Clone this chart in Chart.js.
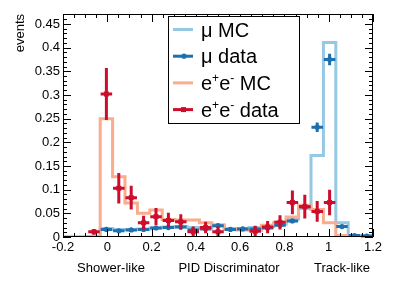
<!DOCTYPE html>
<html>
<head>
<meta charset="utf-8">
<script src="https://cdn.jsdelivr.net/npm/chart.js@4.4.1/dist/chart.umd.min.js"></script>
<style>
  html, body { margin: 0; padding: 0; background: #fff; }
  canvas { display: block; }
</style>
</head>
<body>
<canvas id="myChart" width="394" height="283"></canvas>
<script>
// histogram binning (25 bins from -0.2 to 1.2)
const binEdges = [-0.2, -0.144, -0.088, -0.032, 0.024, 0.08, 0.136, 0.192, 0.248, 0.304, 0.36, 0.416, 0.472,
                  0.528, 0.584, 0.64, 0.696, 0.752, 0.808, 0.864, 0.92, 0.976, 1.032, 1.088, 1.144, 1.2];
const binCenters = [-0.172, -0.116, -0.06, -0.004, 0.052, 0.108, 0.164, 0.22, 0.276, 0.332, 0.388, 0.444, 0.5,
                    0.556, 0.612, 0.668, 0.724, 0.78, 0.836, 0.892, 0.948, 1.004, 1.06, 1.116, 1.172];
const halfBin = 0.026;

const muMC   = [0, 0, 0.001, 0.018, 0.016, 0.016, 0.017, 0.019, 0.021, 0.022, 0.02, 0.018, 0.024,
                0.018, 0.018, 0.02, 0.022, 0.027, 0.038, 0.06, 0.172, 0.411, 0.03, 0.003, 0.002];
const muData = [null, null, null, 0.016, 0.013, 0.015, 0.016, 0.019, 0.02, 0.021, 0.015, 0.017, 0.024,
                0.016, 0.017, 0.017, 0.019, 0.025, 0.034, 0.064, 0.232, 0.375, 0.022, 0.003, 0.002];
const muErr  = [0, 0, 0, 0.002, 0.002, 0.002, 0.002, 0.002, 0.002, 0.002, 0.002, 0.002, 0.002,
                0.002, 0.002, 0.002, 0.002, 0.003, 0.003, 0.005, 0.01, 0.012, 0.003, 0.001, 0.001];
const eeMC   = [0, 0, 0, 0.25, 0.127, 0.072, 0.05, 0.057, 0.037, 0.036, 0.036, 0.03, 0.026,
                0.016, 0.015, 0.014, 0.025, 0.031, 0.042, 0.067, 0.058, 0.03, 0.003, 0, 0];
const eeData = [null, null, 0.011, 0.302, 0.103, 0.083, 0.03, 0.043, 0.035, 0.032, 0.011, 0.02, 0.011,
                null, null, 0.012, 0.021, 0.031, 0.073, 0.064, 0.054, 0.073, null, null, null];
const eeErr  = [0, 0, 0.006, 0.055, 0.032, 0.025, 0.015, 0.018, 0.016, 0.016, 0.011, 0.012, 0.011,
                0, 0, 0.012, 0.013, 0.015, 0.025, 0.025, 0.022, 0.027, 0, 0, 0];

const xTicks = [-0.2, 0, 0.2, 0.4, 0.6, 0.8, 1, 1.2];
const yTicks = [0, 0.05, 0.1, 0.15, 0.2, 0.25, 0.3, 0.35, 0.4, 0.45];

const cMuMC = 'rgb(150,200,228)';
const cMuData = 'rgb(28,112,176)';
const cEeMC = 'rgb(250,172,140)';
const cEeData = 'rgb(204,14,44)';
const FONT = '"Liberation Sans", Arial, sans-serif';

function histPoints(vals) {
    return binEdges.map(function (e, i) {
        return { x: e, y: i < vals.length ? vals[i] : vals[vals.length - 1] };
    });
}
function dataPoints(vals, errs) {
    var pts = [];
    for (let i = 0; i < vals.length; i++) {
        if (vals[i] !== null) pts.push({ x: binCenters[i], y: vals[i], err: errs[i] });
    }
    return pts;
}

// error bars for the data points
const errorBars = {
    id: 'errorBars',
    afterDatasetDraw(chart, args) {
        const ds = chart.data.datasets[args.index];
        if (!ds.errBars) return;
        const ctx = chart.ctx, x = chart.scales.x, y = chart.scales.y;
        ctx.save();
        ctx.strokeStyle = ds.borderColor;
        ctx.lineWidth = 3;
        ctx.lineCap = 'butt';
        ds.data.forEach(function (p) {
            const px = x.getPixelForValue(p.x), py = y.getPixelForValue(p.y);
            ctx.beginPath();
            ctx.moveTo(x.getPixelForValue(p.x - halfBin), py);
            ctx.lineTo(x.getPixelForValue(p.x + halfBin), py);
            if (p.err > 0) {
                ctx.moveTo(px, y.getPixelForValue(Math.max(0, p.y - p.err)));
                ctx.lineTo(px, y.getPixelForValue(p.y + p.err));
            }
            ctx.stroke();
        });
        ctx.restore();
    }
};

// ROOT-like frame with inward ticks, axis texts and legend box
const frame = {
    id: 'frame',
    afterDraw(chart) {
        const ctx = chart.ctx, a = chart.chartArea, x = chart.scales.x, y = chart.scales.y;
        ctx.save();
        ctx.strokeStyle = '#000';
        ctx.lineWidth = 1;
        ctx.beginPath();
        ctx.rect(a.left + 0.5, a.top + 0.5, a.right - a.left - 1, a.bottom - a.top - 1);
        ctx.stroke();

        ctx.beginPath();
        for (let k = 0; k <= 28; k++) {
            const v = -0.2 + k * 0.05;
            const px = Math.round(x.getPixelForValue(v)) + 0.5;
            const len = (k % 4 === 0) ? 8 : 4;
            ctx.moveTo(px, a.bottom); ctx.lineTo(px, a.bottom - len);
            ctx.moveTo(px, a.top); ctx.lineTo(px, a.top + len);
        }
        for (let k = 0; k <= 47; k++) {
            const v = k * 0.01;
            if (v > y.max) break;
            const py = Math.round(y.getPixelForValue(v)) + 0.5;
            const len = (k % 5 === 0) ? 8 : 4;
            ctx.moveTo(a.left, py); ctx.lineTo(a.left + len, py);
            ctx.moveTo(a.right, py); ctx.lineTo(a.right - len, py);
        }
        ctx.stroke();

        ctx.fillStyle = '#000';
        ctx.font = '13px ' + FONT;
        ctx.textBaseline = 'middle';
        ctx.textAlign = 'center';
        ctx.fillText('Shower-like', 111, 268);
        ctx.fillText('PID Discriminator', 229, 268);
        ctx.fillText('Track-like', 342, 268);
        ctx.save();
        ctx.translate(20, 14);
        ctx.rotate(-Math.PI / 2);
        ctx.textAlign = 'right';
        ctx.fillText('events', 0, 0);
        ctx.restore();

        // legend
        ctx.fillStyle = '#fff';
        ctx.fillRect(168, 16, 131, 107);
        ctx.strokeStyle = '#000';
        ctx.strokeRect(168.5, 16.5, 131, 107);
        const rows = [
            { c: cMuMC, t: [['\u03bc MC', 0]], m: null },
            { c: cMuData, t: [['\u03bc data', 0]], m: 'dot' },
            { c: cEeMC, t: [['e', 0], ['+', 1], ['e', 0], ['-', 1], [' MC', 0]], m: null },
            { c: cEeData, t: [['e', 0], ['+', 1], ['e', 0], ['-', 1], [' data', 0]], m: 'sq' }
        ];
        rows.forEach(function (r, i) {
            const ly = 29.5 + i * 26.7;
            ctx.strokeStyle = r.c;
            ctx.lineWidth = 3;
            ctx.beginPath();
            ctx.moveTo(173, ly); ctx.lineTo(193, ly);
            ctx.stroke();
            ctx.fillStyle = r.c;
            if (r.m === 'dot') { ctx.beginPath(); ctx.arc(184, ly, 2.6, 0, Math.PI * 2); ctx.fill(); }
            if (r.m === 'sq') ctx.fillRect(181, ly - 2.5, 5, 5);
            ctx.fillStyle = '#000';
            ctx.textAlign = 'left';
            ctx.textBaseline = 'alphabetic';
            let tx = 201;
            r.t.forEach(function (part) {
                ctx.font = (part[1] ? '12px ' : '20px ') + FONT;
                ctx.fillText(part[0], tx, ly + (part[1] ? -1 : 7));
                tx += ctx.measureText(part[0]).width;
            });
        });
        ctx.restore();
    }
};

const ctx = document.getElementById('myChart').getContext('2d');
const myChart = new Chart(ctx, {
    type: 'scatter',
    data: {
        datasets: [
            { label: 'e+e- data', data: dataPoints(eeData, eeErr), errBars: true,
              borderColor: cEeData, backgroundColor: cEeData, pointStyle: 'rect', pointRadius: 3.5, borderWidth: 0 },
            { label: 'mu data', data: dataPoints(muData, muErr), errBars: true,
              borderColor: cMuData, backgroundColor: cMuData, pointStyle: 'circle', pointRadius: 2.6, borderWidth: 0 },
            { type: 'line', label: 'e+e- MC', data: histPoints(eeMC), stepped: 'before',
              borderColor: cEeMC, borderWidth: 3, pointRadius: 0, fill: false },
            { type: 'line', label: 'mu MC', data: histPoints(muMC), stepped: 'before',
              borderColor: cMuMC, borderWidth: 3, pointRadius: 0, fill: false }
        ]
    },
    options: {
        responsive: false,
        devicePixelRatio: 1,
        animation: false,
        layout: { padding: { top: 14, right: 21, left: 0, bottom: 0 } },
        plugins: { legend: { display: false }, tooltip: { enabled: false } },
        scales: {
            x: {
                type: 'linear', min: -0.2, max: 1.2,
                afterFit: function (s) { s.height = 46; },
                afterBuildTicks: function (s) { s.ticks = xTicks.map(v => ({ value: v })); },
                grid: { display: false, drawTicks: false },
                border: { display: false },
                ticks: {
                    padding: 3, color: '#000', maxRotation: 0, autoSkip: false,
                    font: { family: FONT, size: 13 },
                    callback: v => String(Number(v.toFixed(2)))
                }
            },
            y: {
                type: 'linear', min: 0, max: 0.471,
                afterFit: function (s) { s.width = 63; },
                afterBuildTicks: function (s) { s.ticks = yTicks.map(v => ({ value: v })); },
                grid: { display: false, drawTicks: false },
                border: { display: false },
                ticks: {
                    padding: 3, color: '#000', autoSkip: false,
                    font: { family: FONT, size: 13 },
                    callback: v => String(Number(v.toFixed(2)))
                }
            }
        }
    },
    plugins: [errorBars, frame]
});
</script>
</body>
</html>
